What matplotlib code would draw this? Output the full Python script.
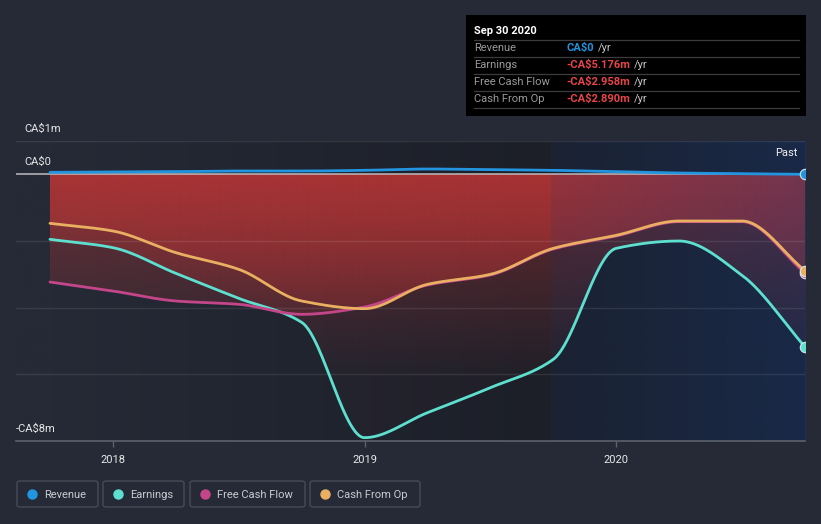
import numpy as np
import matplotlib
matplotlib.use("Agg")
import matplotlib.pyplot as plt
from matplotlib.patches import Polygon, FancyBboxPatch, Rectangle, Circle
from matplotlib.lines import Line2D

plt.rcParams['text.parse_math'] = False
plt.rcParams['font.family'] = ['Roboto', 'DejaVu Sans']

# ---------------- data (CA$ millions, trailing twelve months) ----------------
quarters = [2017.75, 2018.0, 2018.25, 2018.5, 2018.75, 2019.0, 2019.25,
            2019.5, 2019.75, 2020.0, 2020.25, 2020.5, 2020.75]
revenue = [0.06, 0.07, 0.08, 0.10, 0.10, 0.12, 0.16, 0.14, 0.12, 0.08, 0.04, 0.02, 0.0]
earnings = [-1.95, -2.2, -2.97, -3.72, -4.44, -7.9, -7.15, -6.4, -5.55, -2.22, -2.0, -3.03, -5.176]
free_cash_flow = [-3.23, -3.5, -3.8, -3.9, -4.2, -3.98, -3.32, -3.02, -2.24, -1.85, -1.42, -1.42, -2.958]
cash_from_op = [-1.47, -1.7, -2.35, -2.85, -3.8, -4.03, -3.3, -3.0, -2.22, -1.83, -1.4, -1.4, -2.89]

year_ticks = [2018, 2019, 2020]
year_labels = ["2018", "2019", "2020"]
series_names = ["Revenue", "Earnings", "Free Cash Flow", "Cash From Op"]
tooltip_title = "Sep 30 2020"
tooltip_values = ["CA$0", "-CA$5.176m", "-CA$2.958m", "-CA$2.890m"]

# ---------------- styling ----------------
BG = "#252a36"
C_REV = "#2394df"
C_EARN = "#5de0cf"
C_FCF = "#c4468a"
C_CFO = "#e9b061"
W, H = 821, 524


def monotone(x, y, n=600):
    """Monotone cubic (Fritsch-Carlson) rendering of the series for a smooth line."""
    x = np.asarray(x, float)
    y = np.asarray(y, float)
    h = np.diff(x)
    d = np.diff(y) / h
    m = np.zeros_like(y)
    m[0] = d[0]
    m[-1] = d[-1]
    for k in range(1, len(x) - 1):
        if d[k - 1] * d[k] <= 0:
            m[k] = 0.0
        else:
            w1 = 2 * h[k] + h[k - 1]
            w2 = h[k] + 2 * h[k - 1]
            m[k] = (w1 + w2) / (w1 / d[k - 1] + w2 / d[k])
    xs = np.linspace(x[0], x[-1], n)
    idx = np.clip(np.searchsorted(x, xs) - 1, 0, len(x) - 2)
    t = (xs - x[idx]) / h[idx]
    h00 = 2 * t**3 - 3 * t**2 + 1
    h10 = t**3 - 2 * t**2 + t
    h01 = -2 * t**3 + 3 * t**2
    h11 = t**3 - t**2
    ys = h00 * y[idx] + h10 * h[idx] * m[idx] + h01 * y[idx + 1] + h11 * h[idx] * m[idx + 1]
    return xs, ys


def px(x, y):
    return x / W, 1 - y / H


fig = plt.figure(figsize=(W / 100, H / 100), dpi=100, facecolor=BG)
ax_l, ax_r, ax_t, ax_b = 16, 805, 141, 441
ax = fig.add_axes([ax_l / W, 1 - ax_b / H, (ax_r - ax_l) / W, (ax_b - ax_t) / H])
ax.set_facecolor("none")

x0 = 2018 - (113 - ax_l) / 252.0
x1 = quarters[-1]
ymin, ymax = -8, 1
ax.set_xlim(x0, x1)
ax.set_ylim(ymin, ymax)

# background horizontal gradient (darkens toward the "past year" band)
past_start = 2019.74
bg_a = np.array([37, 42, 54]) / 255.0
bg_b = np.array([28, 31, 40]) / 255.0
nx = 400
xx = np.linspace(x0, x1, nx)
frac = np.clip((xx - quarters[0]) / (past_start - quarters[0]), 0, 1)
bgimg = np.zeros((2, nx, 3))
for c in range(3):
    bgimg[:, :, c] = bg_a[c] + (bg_b[c] - bg_a[c]) * frac
ax.imshow(bgimg, extent=[x0, x1, ymin, ymax], aspect="auto", origin="lower",
          zorder=0, interpolation="bilinear")

# gradient red fills (0 -> each loss series)
red = np.array([195, 55, 55]) / 255.0
ny = 300
yy = np.linspace(ymin, ymax, ny)
alpha = np.clip(0.45 * (1 - np.abs(np.minimum(yy, 0)) / 6.5), 0.03, 0.45)
grad = np.zeros((ny, 2, 4))
grad[:, :, :3] = red
grad[:, :, 3] = alpha[:, None]
for vals in (earnings, free_cash_flow, cash_from_op):
    xs, ys = monotone(quarters, vals)
    verts = np.vstack([np.column_stack([xs, ys]),
                       np.column_stack([xs[::-1], np.zeros_like(xs)])])
    poly = Polygon(verts, closed=True, facecolor="none", edgecolor="none",
                   transform=ax.transData)
    ax.add_patch(poly)
    im = ax.imshow(grad, extent=[quarters[0], x1, ymin, ymax], aspect="auto",
                   origin="lower", zorder=1, interpolation="bilinear")
    im.set_clip_path(poly)

# past-year blue band
band_n = 200
bx = np.linspace(0, 1, band_n)
band = np.zeros((2, band_n, 4))
band[:, :, 0] = 20 / 255
band[:, :, 1] = 60 / 255
band[:, :, 2] = 130 / 255
band[:, :, 3] = 0.12 + 0.23 * bx
ax.imshow(band, extent=[past_start, x1, ymin, ymax], aspect="auto", origin="lower",
          zorder=2, interpolation="bilinear")

# grid lines
for gy in [1, -2, -4, -6]:
    ax.axhline(gy, color="white", alpha=0.09, lw=1.0, zorder=2.5)
ax.axhline(0, color="#d0d0d0", alpha=0.75, lw=1.3, zorder=2.6)

# lines
xs, ys = monotone(quarters, earnings)
ax.plot(xs, ys, color=C_EARN, lw=2.0, zorder=4, solid_capstyle="round")
xs, ys = monotone(quarters, free_cash_flow)
ax.plot(xs, ys, color=C_FCF, lw=2.0, zorder=4.1, solid_capstyle="round")
xs, ys = monotone(quarters, cash_from_op)
ax.plot(xs, ys, color=C_CFO, lw=2.0, zorder=4.2, solid_capstyle="round")
xs, ys = monotone(quarters, revenue)
ax.plot(xs, ys, color=C_REV, lw=2.0, zorder=4.3, solid_capstyle="round")

# end markers
for vals, col, z in [(earnings, C_EARN, 5), (free_cash_flow, C_FCF, 5.1),
                     (cash_from_op, C_CFO, 5.2), (revenue, C_REV, 5.3)]:
    ax.plot([quarters[-1]], [vals[-1]], "o", ms=7.5, color=col,
            mec="#d8e8f0", mew=0.8, zorder=z)

# axes styling
for s in ["left", "right", "top"]:
    ax.spines[s].set_visible(False)
ax.spines["bottom"].set_color("#5c616c")
ax.spines["bottom"].set_linewidth(1.2)
ax.spines["bottom"].set_zorder(6)
ax.set_yticks([])
ax.set_xticks(year_ticks)
ax.set_xticklabels(year_labels)
ax.tick_params(axis="x", colors="#5c616c", length=4, width=1, pad=6,
               labelcolor="#e8e8e8", labelsize=8)

# y labels
fig.text(*px(24, 129), "CA$1m", color="#e6e6e6", fontsize=8, va="center", ha="left")
fig.text(*px(24, 162), "CA$0", color="#e6e6e6", fontsize=8, va="center", ha="left")
fig.text(*px(16, 429), "-CA$8m", color="#e6e6e6", fontsize=8, va="center", ha="left")
fig.text(*px(797, 153), "Past", color="#f0f0f0", fontsize=8, va="center", ha="right")

# legend boxes
legend_boxes = [(17, 98), (103, 184), (190, 305), (310, 420)]
legend_cols = [C_REV, C_EARN, C_FCF, C_CFO]
for (bx0, bx1), name, col in zip(legend_boxes, series_names, legend_cols):
    fx0, fy0 = px(bx0, 507)
    fx1, fy1 = px(bx1, 481)
    box = FancyBboxPatch((fx0, fy0), fx1 - fx0, fy1 - fy0,
                         boxstyle="round,pad=0,rounding_size=0.004",
                         transform=fig.transFigure, facecolor=BG,
                         edgecolor="#474c58", lw=1.0)
    fig.patches.append(box)
    cx, cy = px(bx0 + 14.5, 494)
    fig.add_artist(Line2D([cx], [cy], marker="o", ms=6.5, color=col,
                          transform=fig.transFigure, lw=0))
    fig.text(*px(bx0 + 27, 494.5), name, color="#c8ccd2", fontsize=8,
             va="center", ha="left")

# tooltip
tx0, ty0 = px(466, 116)
tx1, ty1 = px(806, 15)
fig.patches.append(Rectangle((tx0, ty0), tx1 - tx0, ty1 - ty0,
                             transform=fig.transFigure, facecolor="#000000",
                             edgecolor="none", zorder=10))
fig.text(*px(474, 31), tooltip_title, color="white", fontsize=8,
         fontweight="bold", va="center", ha="left", zorder=11)
for sy in [40, 57, 74, 91, 108]:
    a, b = px(474, sy)
    c, _ = px(799, sy)
    fig.add_artist(Line2D([a, c], [b, b], color="#3c3c3c", lw=0.9,
                          transform=fig.transFigure, zorder=11))
row_y = [48, 65, 82, 99]
val_cols = [C_REV, "#e8454a", "#e8454a", "#e8454a"]
value_texts = []
for name, val, vc, ry in zip(series_names, tooltip_values, val_cols, row_y):
    fig.text(*px(474, ry), name, color="#9a9a9a", fontsize=8, va="center",
             ha="left", zorder=11)
    t = fig.text(*px(566, ry), val, color=vc, fontsize=8, fontweight="bold",
                 va="center", ha="left", zorder=11)
    value_texts.append((t, ry))

fig.canvas.draw()
renderer = fig.canvas.get_renderer()
for t, ry in value_texts:
    ext = t.get_window_extent(renderer)
    xend = ext.x1
    fig.text((xend + 4) / W, 1 - ry / H, "/yr", color="#c8c8c8", fontsize=8,
             va="center", ha="left", zorder=11)

fig.savefig("out.png", dpi=100, facecolor=BG)
